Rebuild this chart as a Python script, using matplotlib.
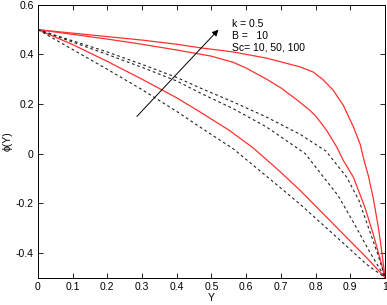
import numpy as np
import matplotlib
matplotlib.use('Agg')
import matplotlib.pyplot as plt

plt.rcParams['font.family'] = ['Liberation Sans', 'DejaVu Sans']

# red solid curves
y_red1 = [0, 0.1, 0.2, 0.3, 0.4, 0.467, 0.563, 0.659, 0.755, 0.793, 0.82, 0.851, 0.88, 0.909, 0.928, 0.94,
          0.952, 0.966, 0.981, 0.99, 1.0]
phi_red1 = [0.5, 0.486, 0.472, 0.458, 0.441, 0.427, 0.41, 0.385, 0.35, 0.329, 0.3, 0.255, 0.194, 0.107, 0.039,
            -0.03, -0.09, -0.18, -0.3, -0.39, -0.5]

y_red2 = [0, 0.1, 0.2, 0.3, 0.4, 0.5, 0.563, 0.6, 0.659, 0.7, 0.745, 0.784, 0.803, 0.832, 0.861, 0.88, 0.909,
          0.942, 0.966, 0.99, 1.0]
phi_red2 = [0.5, 0.481, 0.462, 0.441, 0.418, 0.393, 0.368, 0.345, 0.3, 0.265, 0.218, 0.174, 0.147, 0.093, 0.026,
            -0.028, -0.096, -0.217, -0.325, -0.447, -0.5]

y_red3 = [0, 0.1, 0.2, 0.3, 0.4, 0.467, 0.55, 0.621, 0.697, 0.755, 0.851, 0.947, 1.0]
phi_red3 = [0.5, 0.44, 0.372, 0.3, 0.225, 0.168, 0.095, 0.022, -0.072, -0.148, -0.284, -0.42, -0.5]

# black dashed curves
y_d1 = [0, 0.1, 0.2, 0.3, 0.4, 0.467, 0.563, 0.659, 0.755, 0.83, 0.89, 0.925, 0.952, 0.98, 1.0]
phi_d1 = [0.5, 0.455, 0.41, 0.36, 0.307, 0.265, 0.208, 0.147, 0.078, 0.01, -0.096, -0.19, -0.298, -0.41, -0.5]

y_d2 = [0, 0.1, 0.2, 0.3, 0.4, 0.467, 0.563, 0.659, 0.77, 0.82, 0.865, 0.91, 0.957, 1.0]
phi_d2 = [0.5, 0.45, 0.4, 0.348, 0.293, 0.245, 0.181, 0.107, 0.0, -0.09, -0.17, -0.28, -0.4, -0.5]

y_d3 = [0, 0.1, 0.2, 0.3, 0.4, 0.467, 0.563, 0.697, 0.755, 0.851, 0.947, 1.0]
phi_d3 = [0.5, 0.42, 0.34, 0.258, 0.17, 0.107, 0.019, -0.136, -0.204, -0.325, -0.447, -0.5]

xticks = [0, 0.1, 0.2, 0.3, 0.4, 0.5, 0.6, 0.7, 0.8, 0.9, 1]
yticks = [-0.4, -0.2, 0, 0.2, 0.4, 0.6]

fig = plt.figure(figsize=(3.87, 3.05), dpi=100)
ax = fig.add_axes([0.098, 0.09, 0.897, 0.894])

for yy, pp in [(y_red1, phi_red1), (y_red2, phi_red2), (y_red3, phi_red3)]:
    ax.plot(yy, pp, color='#ff3030', lw=0.9)
for yy, pp in [(y_d1, phi_d1), (y_d2, phi_d2), (y_d3, phi_d3)]:
    ax.plot(yy, pp, color='#222222', lw=0.8, ls=(0, (2.5, 2.5)))

ax.annotate('', xy=(0.52, 0.5), xytext=(0.285, 0.15),
            arrowprops=dict(arrowstyle='-|>', color='black', lw=0.7,
                            mutation_scale=9, shrinkA=0, shrinkB=0))

ax.text(0.56, 0.545, 'k = 0.5\nB =   10\nSc= 10, 50, 100', fontsize=7.5,
        va='top', ha='left', linespacing=1.25)

ax.set_xlim(0, 1)
ax.set_ylim(-0.5, 0.6)
ax.set_xticks(xticks)
ax.set_xticklabels(['0', '0.1', '0.2', '0.3', '0.4', '0.5', '0.6', '0.7', '0.8', '0.9', '1'])
ax.set_yticks(yticks)
ax.set_yticklabels(['-0.4', '-0.2', '0', '0.2', '0.4', '0.6'])
ax.tick_params(direction='in', top=True, right=True, length=3.5, width=0.6,
               labelsize=7.5, pad=3)
for s in ax.spines.values():
    s.set_linewidth(0.7)
ax.set_xlabel('Y', fontsize=7.5, labelpad=1)
ax.set_ylabel('\u03d5(Y)', fontsize=7.5, labelpad=2)

fig.savefig('out.png', dpi=100)
